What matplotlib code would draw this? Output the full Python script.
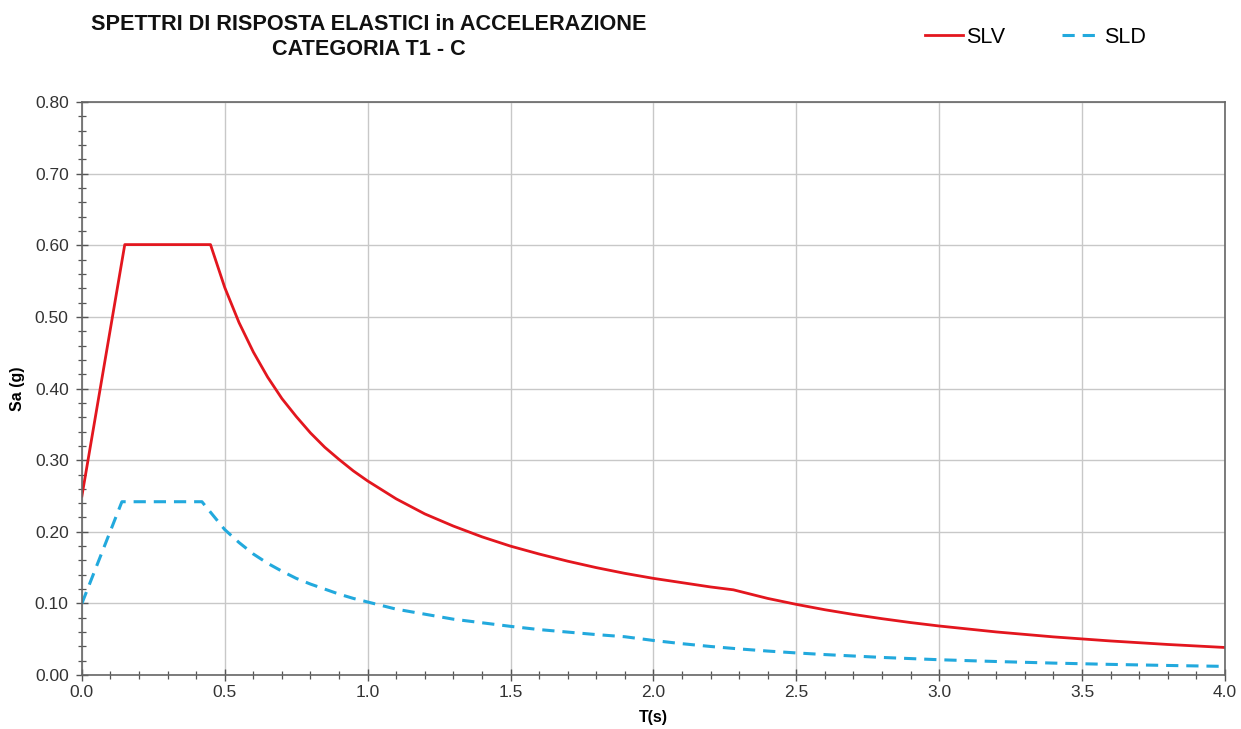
import matplotlib
matplotlib.use("Agg")
import matplotlib.pyplot as plt
from matplotlib.ticker import MultipleLocator, FormatStrFormatter

plt.rcParams['font.family'] = ['Liberation Sans', 'DejaVu Sans']

# SLV spectrum
t_slv = [0.0, 0.15, 0.45, 0.50, 0.55, 0.60, 0.65, 0.70, 0.75, 0.80, 0.85, 0.90, 0.95,
         1.0, 1.1, 1.2, 1.3, 1.4, 1.5, 1.6, 1.7, 1.8, 1.9, 2.0, 2.1, 2.2, 2.28,
         2.4, 2.5, 2.6, 2.7, 2.8, 2.9, 3.0, 3.2, 3.4, 3.6, 3.8, 4.0]
sa_slv = [0.250, 0.601, 0.601, 0.541, 0.492, 0.451, 0.416, 0.386, 0.361, 0.338, 0.318,
          0.301, 0.285, 0.271, 0.246, 0.225, 0.208, 0.193, 0.180, 0.169, 0.159, 0.150,
          0.142, 0.135, 0.129, 0.123, 0.119, 0.107, 0.0987, 0.0912, 0.0846, 0.0787,
          0.0733, 0.0685, 0.0602, 0.0533, 0.0476, 0.0427, 0.0385]

# SLD spectrum
t_sld = [0.0, 0.14, 0.42, 0.50, 0.55, 0.60, 0.65, 0.70, 0.75, 0.80, 0.85, 0.90, 0.95,
         1.0, 1.1, 1.2, 1.3, 1.4, 1.5, 1.6, 1.7, 1.8, 1.9, 2.0, 2.1, 2.2, 2.3, 2.4,
         2.5, 2.6, 2.8, 3.0, 3.2, 3.4, 3.6, 3.8, 4.0]
sa_sld = [0.100, 0.242, 0.242, 0.203, 0.185, 0.169, 0.156, 0.145, 0.135, 0.127, 0.120,
          0.113, 0.107, 0.102, 0.092, 0.085, 0.078, 0.073, 0.068, 0.0635, 0.060, 0.0565,
          0.0535, 0.0483, 0.0438, 0.0399, 0.0365, 0.0335, 0.0309, 0.0286, 0.0246,
          0.0214, 0.0189, 0.0167, 0.0149, 0.0134, 0.0121]

fig = plt.figure(figsize=(12.41, 7.29), dpi=100)
ax = fig.add_axes([0.066, 0.074, 0.921, 0.786])

l1, = ax.plot(t_slv, sa_slv, color='#e3161e', lw=2.0, label='SLV')
l2, = ax.plot(t_sld, sa_sld, color='#22a9dd', lw=2.2, ls=(0, (4, 2.6)), label='SLD')

ax.set_xlim(0, 4)
ax.set_ylim(0, 0.8)
ax.xaxis.set_major_locator(MultipleLocator(0.5))
ax.xaxis.set_minor_locator(MultipleLocator(0.1))
ax.yaxis.set_major_locator(MultipleLocator(0.1))
ax.yaxis.set_minor_locator(MultipleLocator(0.02))
ax.xaxis.set_major_formatter(FormatStrFormatter('%.1f'))
ax.yaxis.set_major_formatter(FormatStrFormatter('%.2f'))
ax.grid(True, which='major', color='#c8c8c8', lw=1.0)
ax.set_axisbelow(True)
ax.tick_params(which='both', direction='inout', colors='#555555', labelcolor='#333333',
               labelsize=12.5)
ax.tick_params(which='major', length=8, width=1.0)
ax.tick_params(which='minor', length=6, width=0.9)
ax.tick_params(axis='y', which='major', pad=5.5)
ax.tick_params(axis='x', which='major', pad=3.5)
for s in ax.spines.values():
    s.set_color('#666666')
    s.set_linewidth(1.2)

ax.set_xlabel('T(s)', fontsize=11.5, fontweight='bold', labelpad=7)
ax.set_ylabel('Sa (g)', fontsize=11.5, fontweight='bold', labelpad=7)

fig.text(0.297, 0.966, 'SPETTRI DI RISPOSTA ELASTICI in ACCELERAZIONE',
         ha='center', va='center', fontsize=15.6, fontweight='bold', color='#111111')
fig.text(0.297, 0.932, 'CATEGORIA T1 - C',
         ha='center', va='center', fontsize=15.6, fontweight='bold', color='#111111')

fig.legend(handles=[l1, l2], loc='center', bbox_to_anchor=(0.834, 0.949), ncol=2,
           frameon=False, fontsize=15.5, handlelength=1.8, handletextpad=0.15,
           columnspacing=2.6)

fig.savefig('out.png', dpi=100)
